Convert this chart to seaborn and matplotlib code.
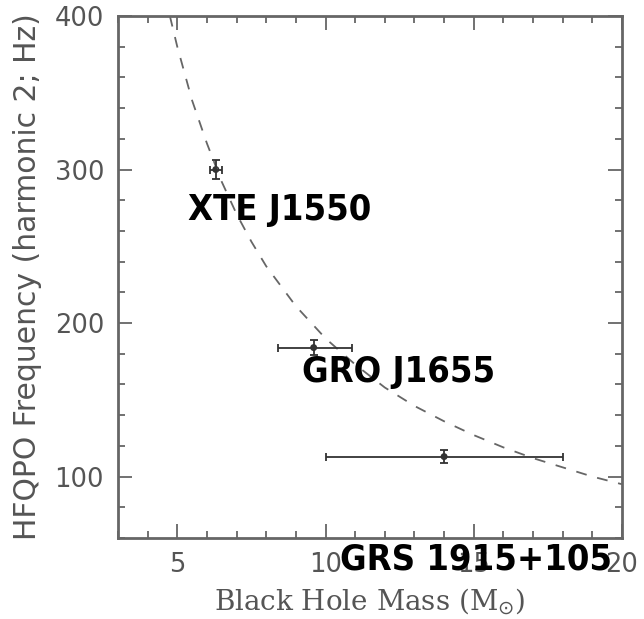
import matplotlib
matplotlib.use("Agg")
import matplotlib.pyplot as plt
from matplotlib.ticker import MultipleLocator
import seaborn as sns
import pandas as pd

# data
sources = ["XTE J1550", "GRO J1655", "GRS 1915+105"]
mass = [6.3, 9.6, 14.0]
mass_lo = [6.1, 8.4, 10.0]
mass_hi = [6.5, 10.9, 18.0]
freq = [300, 184, 113]
freq_err = [6, 5, 4]

curve_mass = [4.75, 5, 5.5, 6, 6.5, 7, 7.5, 8, 9, 10, 11, 12, 13, 14, 15, 16, 17, 18, 19, 20]
curve_freq = [400, 380, 345, 317, 292, 271, 253, 237, 211, 190, 173, 158, 146, 136, 127, 119, 112, 106, 100, 95]

x_ticks = [5, 10, 15, 20]
y_ticks = [100, 200, 300, 400]

sns.set_style("ticks")
fig = plt.figure(figsize=(6.44, 6.19), dpi=100)
ax = fig.add_axes([0.1832, 0.1309, 0.7826, 0.8433])

gray = "#555555"
df_curve = pd.DataFrame({"m": curve_mass, "f": curve_freq})
sns.lineplot(data=df_curve, x="m", y="f", ax=ax, color="#666666", lw=1.3,
             linestyle=(0, (6, 6)))

df_pts = pd.DataFrame({"m": mass, "f": freq})
xerr = [[m - lo for m, lo in zip(mass, mass_lo)], [hi - m for m, hi in zip(mass, mass_hi)]]
ax.errorbar(mass, freq, xerr=xerr, yerr=freq_err, fmt="none", ecolor="#333333",
            elinewidth=1.3, capsize=3, capthick=1.3)
sns.scatterplot(data=df_pts, x="m", y="f", ax=ax, color="#333333", s=25, marker="o",
                edgecolor="none")

ax.set_xlim(3, 20)
ax.set_ylim(60, 400)
ax.set_xticks(x_ticks)
ax.set_yticks(y_ticks)
ax.xaxis.set_minor_locator(MultipleLocator(1))
ax.yaxis.set_minor_locator(MultipleLocator(20))
ax.tick_params(which="both", direction="in", top=True, right=True, color="#666666",
               width=1.3, labelcolor=gray, labelsize=18.5)
ax.tick_params(which="major", length=10)
ax.tick_params(which="minor", length=5)
ax.tick_params(axis="x", pad=10)
ax.tick_params(axis="y", pad=10)
for s in ax.spines.values():
    s.set_color("#666666")
    s.set_linewidth(2)

ax.set_xlabel(r"Black Hole Mass (M$_{\odot}$)", color=gray, fontsize=20,
              family="DejaVu Serif", labelpad=6)
ax.set_ylabel("HFQPO Frequency (harmonic 2; Hz)", color=gray, fontsize=21.5)
ax.yaxis.set_label_coords(-(118 - 42) / 504, 0.5)

label_pos = [(188, 210), (302, 372), (340, 560)]
for name, (px, py) in zip(sources, label_pos):
    fig.text(px / 644, 1 - py / 619, name, fontsize=26, fontweight="bold",
             family="DejaVu Sans", fontstretch="condensed", color="black",
             ha="left", va="center")

fig.savefig("out.png", dpi=100)
